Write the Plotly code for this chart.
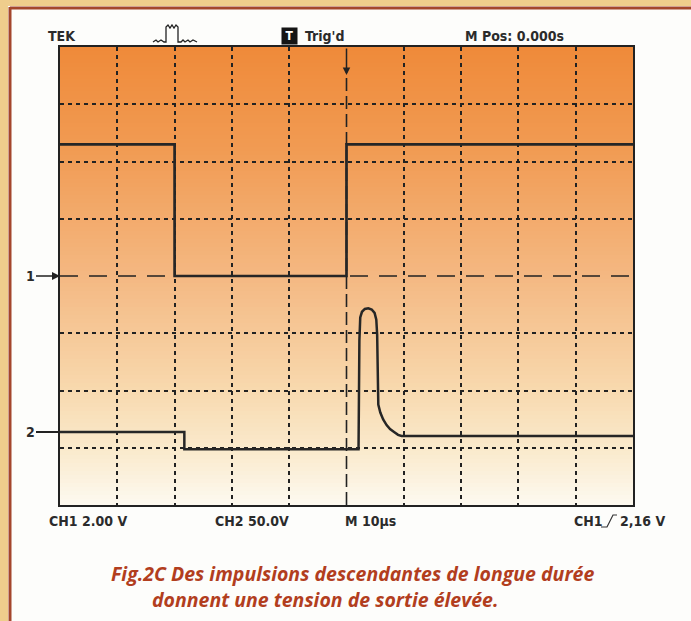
import plotly.graph_objects as go

# ---------------- data ----------------
# Channel 1 (2.00 V/div), time in microseconds
ch1_t = [-50, -30, -30, 0, 0, 50]
ch1_v = [4.6, 4.6, 0.0, 0.0, 4.6, 4.6]

# Channel 2 (50.0 V/div), time in microseconds
ch2_t = [-50, -28.3, -28.3, 2.1, 2.25, 2.4, 2.7, 3.2, 3.8, 4.4, 4.9, 5.2, 5.35, 5.45, 5.55,
         5.9, 6.4, 7.0, 7.6, 8.3, 9.0, 9.6, 50]
ch2_v = [0.0, 0.0, -15.0, -15.0, 80.0, 100.0, 105.0, 107.5, 108.0, 107.0, 104.0, 98.0, 85.0, 40.0, 24.0,
         17.0, 11.0, 6.0, 2.5, 0.0, -2.5, -3.5, -3.5]

grid_t = [-40, -30, -20, -10, 10, 20, 30, 40]
grid_v1 = [-6, -4, -2, 2, 4, 6]

top_labels = ["TEK", "Trig'd", "M Pos: 0.000s"]
bottom_labels = ["CH1 2.00 V", "CH2 50.0V", "M 10\u00b5s", "CH1", "2,16 V"]
caption = ["Fig.2C Des impulsions descendantes de longue durée",
           "donnent une tension de sortie élevée."]

# ---------------- geometry helpers ----------------
W, H = 691, 621
L, R, T, B = 60, 633, 47, 505


def px(x):
    return (x - L) / (R - L)


def py(y):
    return (B - y) / (B - T)


def hexmix(c1, c2, f):
    a = [int(c1[i:i + 2], 16) for i in (1, 3, 5)]
    b = [int(c2[i:i + 2], 16) for i in (1, 3, 5)]
    return "#%02x%02x%02x" % tuple(round(a[k] + (b[k] - a[k]) * f) for k in range(3))


grad_stops = [(47, "#EF8A3A"), (150, "#F19B53"), (276, "#F4B882"),
              (390, "#F8D9AE"), (450, "#FAEACC"), (505, "#FDF9F0")]


def grad_color(y):
    for (y0, c0), (y1, c1) in zip(grad_stops[:-1], grad_stops[1:]):
        if y0 <= y <= y1:
            return hexmix(c0, c1, (y - y0) / (y1 - y0))
    return grad_stops[-1][1]


shapes = []
# gradient background of the screen
step = 4
y = T
while y < B:
    y2 = min(y + step, B)
    shapes.append(dict(type="rect", xref="paper", yref="paper", x0=0, x1=1,
                       y0=py(y2), y1=py(y), fillcolor=grad_color((y + y2) / 2),
                       line=dict(width=0), layer="below"))
    y = y2

# page border (tan strip + brown rule)
shapes.append(dict(type="rect", xref="paper", yref="paper", x0=px(0), x1=px(8),
                   y0=py(H), y1=py(0), fillcolor="#EFCD8C", line=dict(width=0), layer="below"))
shapes.append(dict(type="rect", xref="paper", yref="paper", x0=px(0), x1=px(W),
                   y0=py(6), y1=py(0), fillcolor="#EFCD8C", line=dict(width=0), layer="below"))
shapes.append(dict(type="line", xref="paper", yref="paper", x0=px(10), x1=px(10),
                   y0=py(H), y1=py(7), line=dict(color="#A4462C", width=3), layer="below"))
shapes.append(dict(type="line", xref="paper", yref="paper", x0=px(10), x1=px(W),
                   y0=py(8), y1=py(8), line=dict(color="#A4462C", width=3), layer="below"))

# channel-1 ground reference (long dashes) and trigger line
shapes.append(dict(type="line", xref="paper", yref="y", x0=0, x1=1, y0=0, y1=0,
                   line=dict(color="#222222", width=1.6, dash="18px,11px"), layer="between"))
shapes.append(dict(type="line", xref="x", yref="paper", x0=0, x1=0, y0=0, y1=py(75),
                   line=dict(color="#222222", width=1.6, dash="13px,5px"), layer="between"))

# pulse icon in the header
icon = [(153, 42), (156, 40), (158, 42), (161, 40), (164, 42), (166, 42), (166, 27),
        (168, 25), (170, 28), (172, 25), (174, 28), (176, 25), (178, 27), (178, 42),
        (181, 42), (183, 40), (185, 42), (188, 40), (190, 42), (193, 40), (197, 42)]
path = "M " + " L ".join("%.5f,%.5f" % (px(a), py(b)) for a, b in icon)
shapes.append(dict(type="path", xref="paper", yref="paper", path=path,
                   line=dict(color="#222222", width=1.3)))

# rising-edge glyph in the bottom-right label
edge = [(601, 527), (607, 527), (613, 515), (617, 515)]
path = "M " + " L ".join("%.5f,%.5f" % (px(a), py(b)) for a, b in edge)
shapes.append(dict(type="path", xref="paper", yref="paper", path=path,
                   line=dict(color="#333333", width=1.2)))

# ---------------- figure ----------------
fig = go.Figure()
trace_color = "#262626"
fig.add_trace(go.Scatter(x=ch1_t, y=ch1_v, mode="lines", yaxis="y",
                         line=dict(color=trace_color, width=2.7), hoverinfo="skip"))
fig.add_trace(go.Scatter(x=ch2_t, y=ch2_v, mode="lines", yaxis="y2",
                         line=dict(color=trace_color, width=2.5), hoverinfo="skip"))

label_font = dict(family="Liberation Sans Narrow, DejaVu Sans Condensed, DejaVu Sans, sans-serif",
                  size=14, color="#2b2b2b", weight="bold")
ann = []


def text(s, x, y, anchor="left", font=None):
    ann.append(dict(text=s, xref="paper", yref="paper", x=px(x), y=py(y),
                    xanchor=anchor, yanchor="middle", showarrow=False,
                    font=font or label_font))


text(top_labels[0], 46, 36)
text(top_labels[1], 303, 36)
text(top_labels[2], 463, 36)
ann.append(dict(text="T", xref="paper", yref="paper", x=px(289), y=py(36),
                xanchor="center", yanchor="middle", showarrow=False, bgcolor="#151515",
                font=dict(family=label_font["family"], size=12, color="white", weight="bold"),
                borderpad=1, width=13, height=14))
text(bottom_labels[0], 47, 521)
text(bottom_labels[1], 213, 521)
text(bottom_labels[2], 343, 521)
text(bottom_labels[3], 572, 521)
text(bottom_labels[4], 667, 521, anchor="right")

cap_font = dict(family="Open Sans, Lato, sans-serif", size=19.5, color="#B23E1E",
                weight="bold", style="italic")
text(caption[0], 352, 573.5, anchor="center", font=cap_font)
text(caption[1], 325, 599, anchor="center", font=cap_font)

# channel markers
ann.append(dict(text="1", xref="paper", yref="y", x=0, y=0, ax=-30, ay=0,
                showarrow=True, arrowhead=2, arrowsize=1, arrowwidth=1.6,
                arrowcolor="#222222", font=label_font))
ann.append(dict(text="2", xref="paper", yref="y2", x=0, y=0, ax=-30, ay=0,
                showarrow=True, arrowhead=0, arrowwidth=1.8,
                arrowcolor="#222222", font=label_font))
# trigger position arrow
ann.append(dict(text="", xref="x", yref="paper", x=0, y=py(75), ax=0, ay=-28,
                showarrow=True, arrowhead=2, arrowsize=1, arrowwidth=1.5,
                arrowcolor="#222222"))

fig.update_layout(
    width=W, height=H,
    margin=dict(l=L, r=W - R, t=T, b=H - B, pad=0),
    paper_bgcolor="#FDFDFB",
    plot_bgcolor="rgba(0,0,0,0)",
    showlegend=False,
    shapes=shapes,
    annotations=ann,
    xaxis=dict(range=[-50, 50], tickvals=grid_t, showticklabels=False, ticks="",
               showgrid=True, gridcolor="#222222", gridwidth=1.5, griddash="4px,4px",
               zeroline=False, showline=True, mirror=True, linecolor="#222222",
               linewidth=1.6, fixedrange=True),
    yaxis=dict(range=[-8, 8], tickvals=grid_v1, showticklabels=False, ticks="",
               showgrid=True, gridcolor="#222222", gridwidth=1.5, griddash="4px,4px",
               zeroline=False, showline=True, mirror=True, linecolor="#222222",
               linewidth=1.6, fixedrange=True),
    yaxis2=dict(range=[-63.75, 336.25], overlaying="y", showgrid=False,
                showticklabels=False, ticks="", zeroline=False, fixedrange=True),
)

fig.write_html("out.html", config={"displayModeBar": False},
               post_script="document.body.style.margin='0';document.body.style.overflow='hidden';")
